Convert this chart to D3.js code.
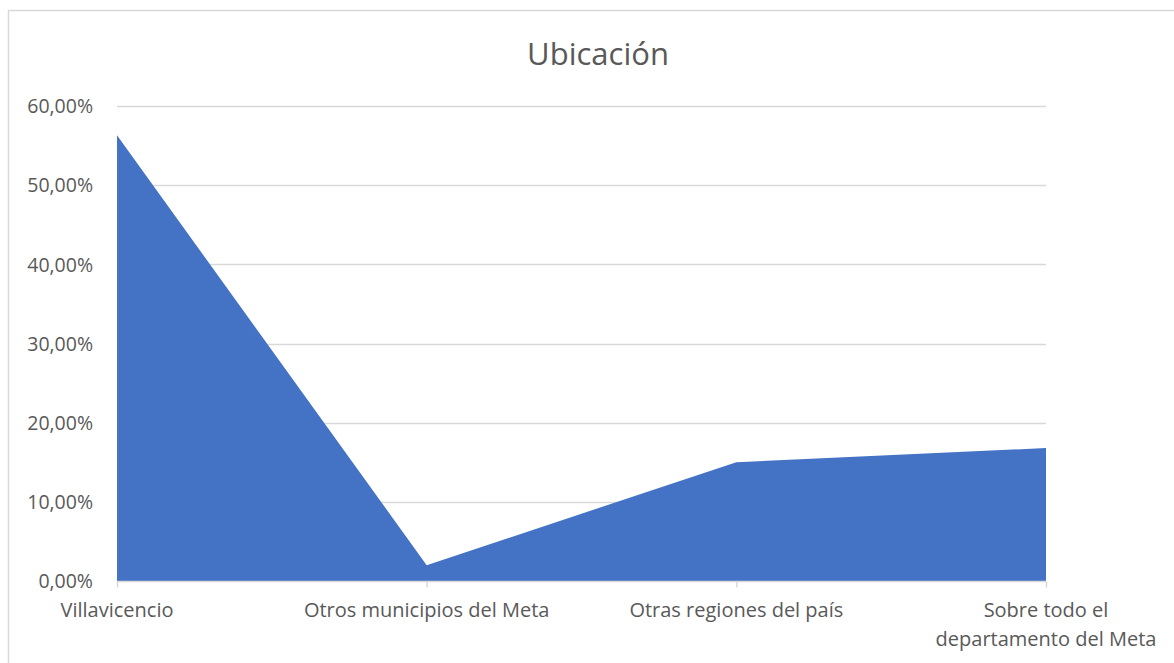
<!DOCTYPE html>
<html>
<head>
<meta charset="utf-8">
<script src="https://cdn.jsdelivr.net/npm/d3@7"></script>
<style>
html,body{margin:0;padding:0;background:#fff;}
svg{display:block;}
</style>
</head>
<body>
<svg id="chart" width="1174" height="663"></svg>
<script>
const title = "Ubicación";
const categories = ["Villavicencio", "Otros municipios del Meta", "Otras regiones del país", "Sobre todo el departamento del Meta"];
const categoryLines = [["Villavicencio"], ["Otros municipios del Meta"], ["Otras regiones del país"], ["Sobre todo el", "departamento del Meta"]];
const values = [0.563, 0.020, 0.150, 0.168];
const yTicks = [0, 0.1, 0.2, 0.3, 0.4, 0.5, 0.6];
const yTickLabels = ["0,00%", "10,00%", "20,00%", "30,00%", "40,00%", "50,00%", "60,00%"];

const svg = d3.select("#chart");
const font = "'Open Sans', Lato, sans-serif";
const margin = {left: 117, right: 1174 - 1046, top: 106, bottom: 663 - 581};
const W = 1174, H = 663;

// outer border
svg.append("path")
  .attr("d", `M8.5,${H+2} L8.5,10.5 L${W+2},10.5`)
  .attr("fill", "none").attr("stroke", "#d9d9d9").attr("stroke-width", 1.5);

const x = d3.scalePoint().domain(categories).range([margin.left, W - margin.right]);
const y = d3.scaleLinear().domain([0, 0.6]).range([H - margin.bottom, margin.top]);

// gridlines
svg.append("g").selectAll("line").data(yTicks.slice(1)).join("line")
  .attr("x1", margin.left).attr("x2", W - margin.right)
  .attr("y1", d => Math.round(y(d)) + 0.5).attr("y2", d => Math.round(y(d)) + 0.5)
  .attr("stroke", "#d9d9d9").attr("stroke-width", 1.5);

// area
const area = d3.area()
  .x((d, i) => x(categories[i]))
  .y0(y(0))
  .y1(d => y(d));
svg.append("path").datum(values).attr("d", area).attr("fill", "#4472c4");

// x axis
const xAxis = d3.axisBottom(x).tickSize(6).tickFormat("");
const gx = svg.append("g").attr("transform", `translate(0,${Math.round(y(0)) + 0.5})`).call(xAxis);
gx.select(".domain").attr("stroke", "#d9d9d9").attr("stroke-width", 1.5).attr("d", `M${margin.left},0H${W - margin.right}`);
gx.selectAll(".tick line").attr("stroke", "#d9d9d9").attr("stroke-width", 1.5);

// x labels
const xl = svg.append("g").selectAll("text").data(categories).join("text")
  .attr("x", d => x(d)).attr("y", 617)
  .attr("text-anchor", "middle")
  .attr("font-family", font).attr("font-size", 20).attr("fill", "#595959");
xl.each(function(d, i) {
  const t = d3.select(this);
  categoryLines[i].forEach((ln, j) => {
    t.append("tspan").attr("x", x(d)).attr("dy", j === 0 ? 0 : 29).text(ln);
  });
});

// y axis labels
const yAxis = d3.axisLeft(y).tickValues(yTicks).tickSize(0).tickPadding(0)
  .tickFormat((d, i) => yTickLabels[i]);
const gy = svg.append("g").attr("transform", "translate(93,0)").call(yAxis);
gy.select(".domain").remove();
gy.selectAll("text").attr("font-family", font).attr("font-size", 19.5).attr("fill", "#595959").attr("dy", "0.35em");

// title
svg.append("text").attr("x", 598).attr("y", 65).attr("text-anchor", "middle")
  .attr("font-family", font).attr("font-size", 31).attr("fill", "#595959").text(title);
</script>
</body>
</html>
